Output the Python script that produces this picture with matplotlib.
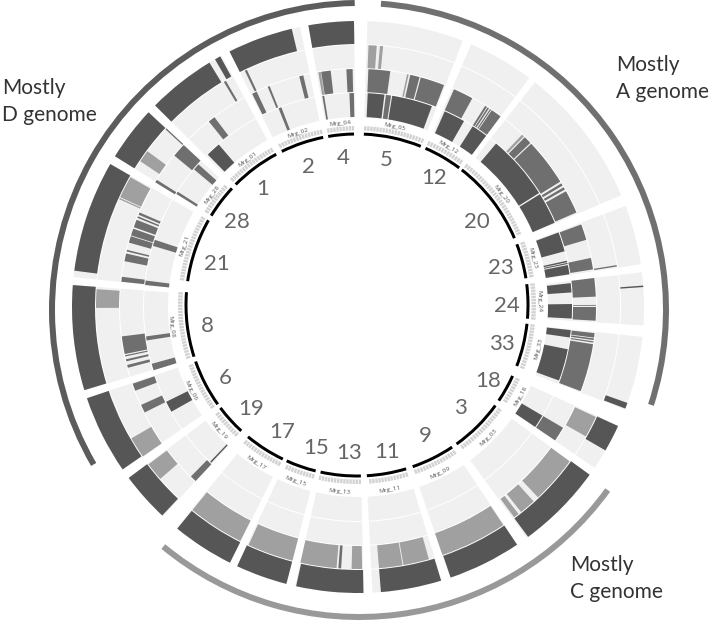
import numpy as np
from matplotlib import pyplot as plt

W, H = 708, 621

# sectors, going clockwise from the top
sector_ids = [5, 12, 20, 23, 24, 33, 18, 3, 9, 11, 13, 15, 17, 19, 6, 8, 21, 28, 1, 2, 4]
arc_starts = [2.3, 23.6, 37.8, 69.2, 83.0, 96.3, 114.5, 126.0, 146.2, 163.3, 178.7,
              194.0, 205.7, 222.6, 234.5, 252.4, 278.0, 301.5, 314.8, 333.9, 350.3]
arc_ends = [21.9, 36.7, 67.0, 81.0, 94.6, 110.9, 124.0, 144.4, 161.0, 176.7, 192.3,
            204.3, 219.6, 233.0, 250.7, 274.3, 299.7, 313.0, 331.8, 348.6, 359.0]
bg_starts = [1.9, 23.3, 38.2, 69.3, 83.0, 96.0, 114.5, 126.0, 146.2, 163.0, 178.9,
             194.5, 206.6, 223.0, 235.3, 253.0, 276.0, 301.8, 314.8, 333.3, 350.0]
bg_ends = [21.5, 36.8, 67.0, 81.4, 93.7, 111.0, 124.2, 143.8, 161.2, 177.1, 192.7,
           205.0, 219.4, 233.3, 251.4, 274.4, 300.0, 313.0, 331.5, 348.3, 359.2]

# (start, end, tone) per track, innermost first
track0 = [
    (2.6, 7.1, "d"), (7.5, 8.9, "m"), (9.2, 20.2, "d"),
    (23.9, 29.7, "d"), (32.4, 36.8, "d"),
    (40.2, 57.8, "d"), (58.2, 66.8, "d"),
    (69.6, 74.9, "d"), (77.5, 77.9, "d"), (78.1, 78.4, "d"), (78.7, 81.2, "d"),
    (83.6, 86.1, "d"), (89.2, 93.1, "d"),
    (96.2, 98.2, "d"), (101.4, 110.1, "d"),
    (120.5, 124.1, "d"),
    (223.3, 223.7, "d"),
    (240.7, 243.7, "d"),
    (252.8, 254.6, "m"), (261.0, 262.1, "m"),
    (275.9, 277.1, "m"), (286.6, 288.3, "m"),
    (301.9, 302.6, "m"), (310.0, 311.8, "m"),
    (315.4, 319.4, "d"),
    (338.2, 339.0, "m"),
    (350.4, 350.9, "m"), (357.7, 358.9, "m"),
]
track1 = [
    (2.5, 7.8, "m"), (11.9, 12.3, "l"), (12.7, 15.0, "m"), (15.3, 21.2, "m"),
    (23.8, 28.7, "m"), (32.3, 32.8, "m"), (33.0, 33.4, "m"), (33.7, 34.0, "m"), (34.2, 36.8, "m"),
    (43.6, 44.2, "l"), (44.5, 46.4, "m"), (46.7, 58.2, "m"),
    (58.7, 59.3, "m"), (59.8, 60.4, "m"), (60.9, 66.6, "m"),
    (69.7, 73.6, "m"), (78.1, 80.9, "m"),
    (83.0, 87.5, "m"), (89.5, 89.7, "m"), (90.0, 93.3, "m"),
    (96.3, 97.4, "m"), (97.6, 98.0, "m"), (98.3, 98.6, "m"), (99.0, 110.7, "m"),
    (120.5, 124.1, "m"),
    (223.0, 224.6, "m"),
    (243.7, 245.7, "m"), (249.4, 251.2, "m"),
    (255.2, 255.9, "m"), (256.8, 257.3, "m"), (258.0, 258.3, "m"), (258.6, 262.9, "m"),
    (276.1, 277.3, "m"), (281.1, 283.0, "m"), (283.5, 283.9, "m"),
    (285.7, 287.3, "m"), (287.5, 289.2, "m"), (289.6, 291.5, "m"), (292.0, 292.4, "m"), (292.8, 293.4, "m"),
    (301.6, 302.3, "m"), (309.5, 312.9, "m"),
    (321.2, 322.9, "m"),
    (333.6, 334.8, "m"), (337.7, 338.2, "m"), (345.7, 346.7, "m"),
    (350.4, 351.0, "l"), (351.1, 353.4, "m"), (357.2, 358.7, "m"),
]
track2 = [
    (2.3, 4.1, "l"), (4.8, 5.5, "l"),
    (80.8, 81.1, "m"),
    (114.8, 119.6, "l"),
    (126.1, 136.6, "l"), (137.9, 141.5, "l"), (142.2, 143.4, "l"),
    (146.3, 161.2, "l"),
    (164.3, 170.0, "l"), (170.2, 175.4, "l"),
    (179.1, 181.4, "l"), (183.7, 184.3, "m"), (184.7, 192.7, "l"),
    (194.5, 204.7, "l"),
    (206.7, 219.2, "l"),
    (229.0, 233.1, "l"),
    (235.2, 239.9, "l"),
    (269.8, 273.9, "l"),
    (294.3, 294.6, "l"), (294.8, 299.7, "l"),
    (303.8, 306.5, "l"), (312.7, 313.0, "m"),
    (329.2, 329.7, "m"),
    (334.4, 334.9, "m"),
]
track3 = [
    (85.7, 86.0, "d"),
    (109.6, 110.8, "d"),
    (114.6, 120.1, "d"),
    (125.9, 143.5, "d"),
    (146.2, 161.1, "d"),
    (163.1, 175.4, "d"),
    (178.9, 192.5, "d"),
    (194.5, 205.0, "d"),
    (206.6, 219.2, "d"),
    (223.2, 233.3, "d"),
    (235.4, 251.4, "d"),
    (253.1, 274.4, "d"),
    (277.3, 300.0, "d"),
    (301.8, 312.9, "d"),
    (314.8, 328.7, "d"), (330.0, 331.2, "d"),
    (333.3, 346.6, "d"),
    (350.0, 359.2, "d"),
]
tracks = [track0, track1, track2, track3]
track_radii = [(190, 214), (215, 238), (239, 262), (263, 286)]

# outer arcs: name, start, end, colour
genome_names = ["A", "C", "D"]
genome_starts = [4.1, 125.9, 239.8]
genome_ends = [108.0, 219.6, 359.2]
genome_colors = ["#707070", "#999999", "#5c5c5c"]

# number label positions, read in pixels
number_x = [386, 434, 477, 501, 507, 502, 488, 460, 425, 387, 349, 316, 282, 251, 225, 207, 217, 237, 263, 308, 343]
number_y = [160, 178, 222, 268, 306, 344, 381, 408, 436, 452, 453, 448, 432, 409, 378, 326, 264, 222, 189, 167, 158]

tones = {"d": "#565656", "m": "#6f6f6f", "l": "#a0a0a0"}
FONT = "Lato"


def polar_axes(fig, cx, cy, R=325):
    ax = fig.add_axes([(cx - R) / W, (H - cy - R) / H, 2 * R / W, 2 * R / H], projection="polar")
    ax.set_theta_zero_location("N")
    ax.set_theta_direction(-1)
    ax.set_ylim(0, R)
    ax.axis("off")
    return ax


def arc(ax, start, end, r0, r1, color):
    ax.bar(np.radians(start), r1 - r0, width=np.radians(end - start), bottom=r0,
           align="edge", color=color, linewidth=0)


def main():
    fig = plt.figure(figsize=(W / 100, H / 100), dpi=100)
    ax = polar_axes(fig, 358, 307)
    ax_inner = polar_axes(fig, 357, 305)
    ax_outer = polar_axes(fig, 359, 310)

    # tracks
    for r0, r1 in track_radii:
        for s, e in zip(bg_starts, bg_ends):
            arc(ax, s, e, r0, r1, "#f0f0f0")
    for marks, (r0, r1) in zip(tracks, track_radii):
        for s, e, tone in marks:
            arc(ax, s, e, r0, r1, tones[tone])

    # black ideogram arcs, grey tick band, small names
    for sid, s, e in zip(sector_ids, arc_starts, arc_ends):
        arc(ax_inner, s, e, 169.5, 172.5, "black")
        for t in np.arange(s, e - 0.5, 1.0):
            arc(ax_inner, t, t + 0.75, 174.5, 179, "#d2d2d2")
        mid = (s + e) / 2
        rot = 180 - mid if 90 <= mid < 270 else -mid
        r_name = 182 if mid < 90 or mid > 270 else 187
        ax_inner.text(np.radians(mid), r_name, f"Mrg_{sid:02d}", fontsize=4.6, color="#555555",
                      rotation=rot, rotation_mode="anchor", ha="center", va="center", family="Open Sans")

    # genome arcs
    for name, s, e, c in zip(genome_names, genome_starts, genome_ends, genome_colors):
        arc(ax_outer, s, e, 304, 310, c)

    for sid, x, y in zip(sector_ids, number_x, number_y):
        fig.text(x / W, 1 - y / H, str(sid), fontsize=16, color="#666666",
                 ha="center", va="center", family=FONT)

    for x, y, label in [(616, 65, "Mostly"), (616, 92, "A genome"),
                        (2, 88, "Mostly"), (2, 115, "D genome"),
                        (570, 565, "Mostly"), (570, 592, "C genome")]:
        fig.text(x / W, 1 - y / H, label, fontsize=15, color="#333333",
                 ha="left", va="center", family=FONT)

    fig.savefig("out.png", dpi=100)


if __name__ == "__main__":
    main()
